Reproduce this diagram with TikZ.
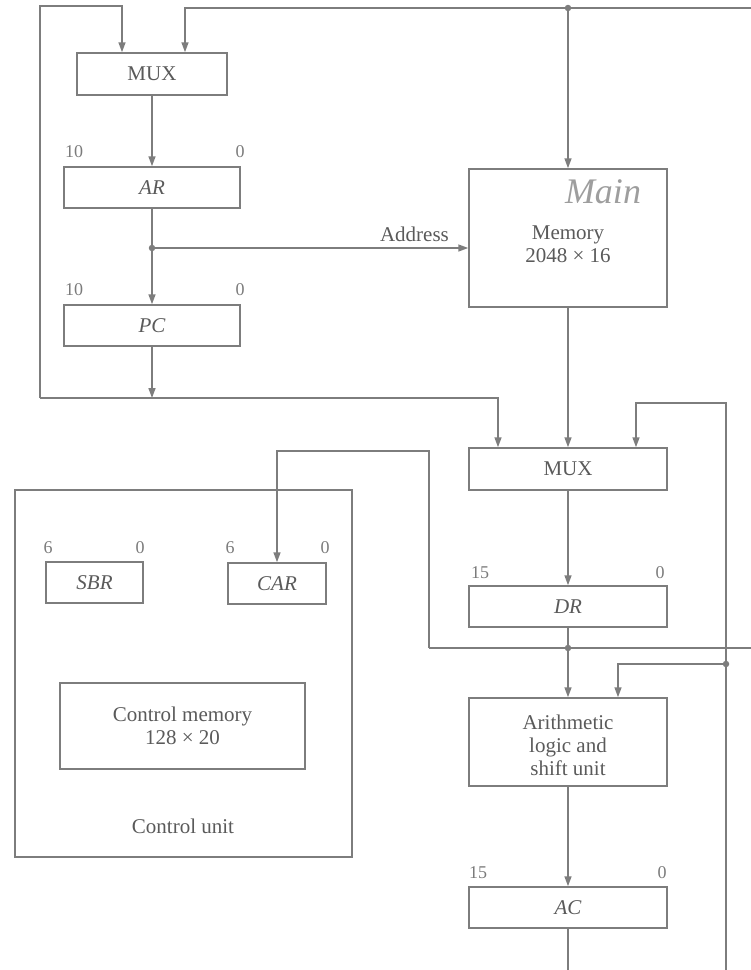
\documentclass[tikz,border=0pt]{standalone}
\usepackage{fontspec}
\setmainfont{Liberation Serif}
\usetikzlibrary{arrows.meta}
\definecolor{ln}{RGB}{125,125,125}
\definecolor{tx}{RGB}{90,90,90}
\tikzset{
  box/.style={draw=ln, line width=1.5pt, rectangle, inner sep=0pt, text=tx, font=\fontsize{21}{23}\selectfont},
  txt/.style={text=tx, inner sep=0pt, font=\fontsize{21}{23}\selectfont, align=center},
  bit/.style={text=tx!80, inner sep=0pt, font=\fontsize{18}{20}\selectfont},
  wire/.style={draw=ln, line width=1.5pt},
  arr/.style={wire, -{Triangle[length=10pt,width=7pt]}},
  dot/.style={circle, fill=ln, inner sep=0pt, minimum size=6.5pt},
}
\begin{document}
\begin{tikzpicture}[x=1pt,y=1pt]
\useasboundingbox (0,0) rectangle (751,-970);
% boxes
\node[box, minimum width=150, minimum height=42] (mux1) at (152,-74) {MUX};
\node[box, minimum width=176, minimum height=41] (ar) at (152,-187.5) {\itshape AR};
\node[box, minimum width=176, minimum height=41] (pc) at (152,-325.5) {\itshape PC};
\node[box, minimum width=198, minimum height=138] (mem) at (568,-238) {};
\node[txt] (memtxt) at (568,-244) {Memory\\2048 × 16};
\node[text=ln!75, inner sep=0pt, font=\fontsize{36}{36}\selectfont\itshape] (main) at (603,-192) {Main};
\node[box, minimum width=198, minimum height=42] (mux2) at (568,-469) {MUX};
\node[box, minimum width=198, minimum height=41] (dr) at (568,-606.5) {\itshape DR};
\node[box, minimum width=198, minimum height=88] (alu) at (568,-742) {};
\node[txt] (alutxt) at (568,-745) {Arithmetic\\logic and\\shift unit};
\node[box, minimum width=198, minimum height=41] (ac) at (568,-907.5) {\itshape AC};
\node[box, minimum width=337, minimum height=367] (cu) at (183.5,-673.5) {};
\node[box, minimum width=97, minimum height=41] (sbr) at (94.5,-582.5) {\itshape SBR};
\node[box, minimum width=98, minimum height=41] (car) at (277,-583.5) {\itshape CAR};
\node[box, minimum width=245, minimum height=86] (cm) at (182.5,-726) {};
\node[txt] (cmtxt) at (182.5,-726) {Control memory\\128 × 20};
\node[txt] (cutxt) at (183,-826) {Control unit};
% bit labels
\node[bit] (ar10) at (74,-152) {10};
\node[bit] (ar0) at (240,-152) {0};
\node[bit] (pc10) at (74,-290) {10};
\node[bit] (pc0) at (240,-290) {0};
\node[bit] (dr15) at (480,-573) {15};
\node[bit] (dr0) at (660,-573) {0};
\node[bit] (ac15) at (478,-873) {15};
\node[bit] (ac0) at (662,-873) {0};
\node[bit] (sbr6) at (48,-548) {6};
\node[bit] (sbr0) at (140,-548) {0};
\node[bit] (car6) at (230,-548) {6};
\node[bit] (car0) at (325,-548) {0};
% coordinates
\coordinate (tl) at (40,-6);
\coordinate (tm) at (122,-6);
\coordinate (bl) at (40,-398);
\coordinate (pcb) at (152,-398);
\coordinate (bm) at (498,-398);
\coordinate (topL) at (185,-8);
\coordinate (topR) at (751,-8);
\coordinate (topJ) at (568,-8);
\coordinate (addrJ) at (152,-248);
\coordinate (rT) at (726,-403);
\coordinate (rL) at (636,-403);
\coordinate (rB) at (726,-970);
\coordinate (rJ) at (726,-664);
\coordinate (aluIn) at (618,-664);
\coordinate (drJ) at (568,-648);
\coordinate (drR) at (751,-648);
\coordinate (drL) at (429,-648);
\coordinate (drU) at (429,-451);
\coordinate (carT) at (277,-451);
\coordinate (acB) at (568,-970);
% connectors
\draw[arr] (mux1) -- (ar);
\draw[arr] (ar) -- (pc);
\draw[arr] (pc) -- (pcb);
\draw[arr] (bl) -- (tl) -- (tm) -- (tm |- mux1.north);
\draw[arr] (bl) -- (bm) -- (bm |- mux2.north);
\draw[arr] (topR) -- (topL) -- (topL |- mux1.north);
\draw[arr] (topJ) -- (mem);
\node[dot] at (topJ) {};
\draw[arr] (addrJ) -- (addrJ -| mem.west) node[pos=0.83, above=6pt, txt] (addr) {Address};
\node[dot] at (addrJ) {};
\draw[arr] (mem) -- (mux2);
\draw[arr] (rB) -- (rT) -- (rL) -- (rL |- mux2.north);
\draw[arr] (mux2) -- (dr);
\draw[arr] (dr) -- (alu);
\draw[wire] (drL) -- (drR);
\draw[arr] (drL) -- (drU) -- (carT) -- (car.north);
\node[dot] at (drJ) {};
\draw[arr] (rJ) -- (aluIn) -- (aluIn |- alu.north);
\node[dot] at (rJ) {};
\draw[arr] (alu) -- (ac);
\draw[wire] (ac) -- (acB);
\end{tikzpicture}
\end{document}
